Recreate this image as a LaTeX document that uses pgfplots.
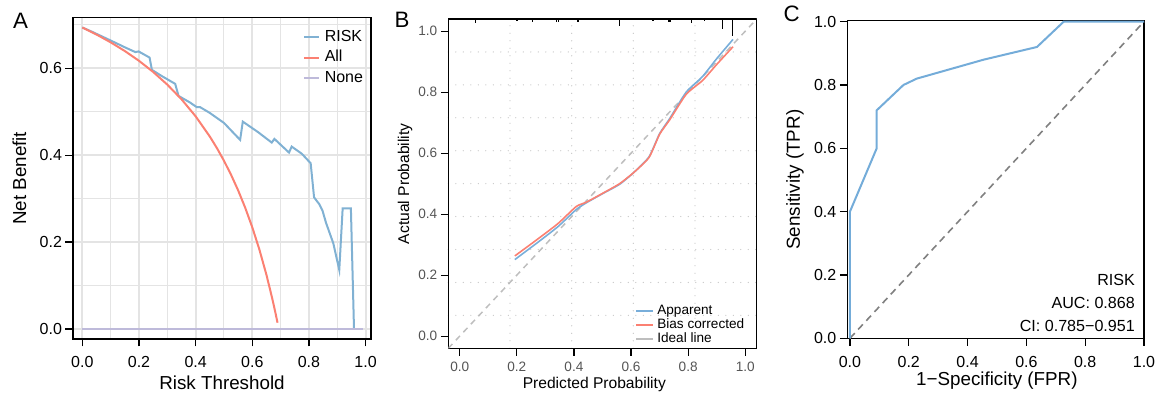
\documentclass[border=0pt]{standalone}
\usepackage{fontspec}
\setmainfont{Liberation Sans}
\usepackage{pgfplots}
\pgfplotsset{compat=1.18}
\definecolor{riskblue}{HTML}{80B1D3}
\definecolor{allred}{HTML}{FB8072}
\definecolor{nonepurple}{HTML}{BEBADA}
\definecolor{gridgrey}{HTML}{E4E4E4}
\definecolor{appblue}{HTML}{78AEDA}
\definecolor{idealgrey}{HTML}{BEBEBE}
\definecolor{dotgrey}{HTML}{C8C8C8}
\definecolor{labgrey}{HTML}{555555}
\definecolor{rocblue}{HTML}{74ACD9}
\definecolor{diaggrey}{HTML}{808080}
\begin{document}
\begin{tikzpicture}[x=1pt,y=1pt]
\useasboundingbox (0,0) rectangle (1160,393);
\pgfplotsset{
  panel/.style={scale only axis, anchor=south west,
    axis line style={black, line width=1.5pt},
    tick align=outside, tick pos=left, major tick length=7.5pt,
    major tick style={black, line width=1.2pt},
    ticklabel style={font=\fontsize{16}{19}\selectfont},
    label style={font=\fontsize{18.8}{22}\selectfont},
    legend cell align=left,
  }
}
% ---------------- Panel A ----------------
\begin{axis}[panel, at={(73pt,54pt)}, width=298pt, height=321.7pt,
  xmin=-0.033, xmax=1.019, ymin=-0.023, ymax=0.717,
  xtick={0,0.2,0.4,0.6,0.8,1}, xticklabels={0.0,0.2,0.4,0.6,0.8,1.0},
  ytick={0,0.2,0.4,0.6}, yticklabels={0.0,0.2,0.4,0.6},
  xticklabel style={yshift=-6.5pt},
  minor xtick={0.1,0.3,0.5,0.7,0.9}, minor ytick={0.1,0.3,0.5,0.7},
  minor tick length=0pt,
  grid=both, major grid style={gridgrey, line width=1.8pt},
  minor grid style={gridgrey, line width=1pt},
  xlabel={Risk Threshold}, ylabel={Net Benefit},
  xlabel style={at={(axis description cs:0.5,-0.136)}, anchor=center},
  ylabel style={at={(axis description cs:-0.180,0.4995)}, anchor=center},
  legend image code/.code={\draw[#1] (0pt,0pt) -- (15pt,0pt);},
  legend style={at={(axis description cs:0.772,0.9643)}, anchor=north west,
    draw=none, fill=none, font=\fontsize{16}{19}\selectfont,
    row sep=3.5pt, column sep=4pt, inner sep=0pt,
    nodes={inner sep=0.5pt, text height=12pt, text depth=4pt}},
]
\addplot[riskblue, line width=2pt] coordinates {
(0,0.6935) (0.03,0.685) (0.0575,0.6766) (0.10,0.6636) (0.15,0.648) (0.187,0.637)
(0.1985,0.6385) (0.2373,0.6244) (0.2456,0.5961) (0.28,0.582) (0.3278,0.5639)
(0.3395,0.5362) (0.38,0.521) (0.4042,0.5102) (0.416,0.5102) (0.45,0.497)
(0.50,0.474) (0.557,0.435) (0.5664,0.477) (0.62,0.453) (0.6686,0.4288)
(0.678,0.4373) (0.7296,0.4058) (0.739,0.4196) (0.775,0.403) (0.806,0.3813)
(0.818,0.303) (0.8365,0.287) (0.848,0.272) (0.860,0.2447) (0.886,0.197)
(0.907,0.1358) (0.919,0.2777) (0.948,0.2777) (0.959,0.0)};
\addlegendentry{RISK}
\addplot[allred, line width=2pt] coordinates {
(0,0.6935) (0.05,0.6774) (0.10,0.6594) (0.15,0.6394) (0.20,0.6169) (0.25,0.5913)
(0.30,0.5621) (0.35,0.5285) (0.40,0.4892) (0.45,0.4427) (0.475,0.4162) (0.50,0.3870)
(0.525,0.3547) (0.55,0.3189) (0.575,0.2788) (0.60,0.2338) (0.625,0.1827)
(0.65,0.1243) (0.67,0.0712) (0.68,0.0422) (0.689,0.0145)};
\addlegendentry{All}
\addplot[nonepurple, line width=2pt] coordinates {(0,0) (0.99,0)};
\addlegendentry{None}
\end{axis}
% ---------------- Panel B ----------------
\begin{axis}[panel, at={(448.3pt,44.7pt)}, width=308.4pt, height=329.3pt,
  xmin=-0.04, xmax=1.04, ymin=-0.04, ymax=1.04,
  xtick={0,0.2,0.4,0.6,0.8,1}, xticklabels={0.0,0.2,0.4,0.6,0.8,1.0},
  ytick={0,0.2,0.4,0.6,0.8,1}, yticklabels={0.0,0.2,0.4,0.6,0.8,1.0},
  ticklabel style={font=\fontsize{13.6}{16}\selectfont, text=labgrey},
  xticklabel style={yshift=-3pt},
  minor xtick={0.176,0.392,0.608,0.824},
  minor ytick={0.068,0.176,0.284,0.392,0.5,0.608,0.716,0.824,0.932},
  minor tick length=0pt, grid=minor,
  minor grid style={dotgrey, line width=1.3pt, dash pattern=on 0pt off 7.5pt, line cap=round},
  xlabel={Predicted Probability}, ylabel={Actual Probability},
  label style={font=\fontsize{15.6}{19}\selectfont},
  xlabel style={at={(axis description cs:0.4735,-0.1085)}, anchor=center},
  ylabel style={at={(axis description cs:-0.140,0.4995)}, anchor=center},
  legend image code/.code={\draw[#1] (0pt,0pt) -- (17pt,0pt);},
  legend style={at={(axis description cs:0.6054,0.1345)}, anchor=north west,
    draw=none, fill=none, font=\fontsize{13.6}{16}\selectfont,
    row sep=0pt, column sep=3pt, inner sep=0pt,
    nodes={inner sep=0.5pt, text height=9.8pt, text depth=3.2pt}},
]
\addplot[forget plot, black, line width=1.1pt, unbounded coords=jump] coordinates {
(0.056,1.04) (0.056,1.027) (0.056,nan)
(0.2007,1.04) (0.2007,1.033) (0.2007,nan)
(0.2543,1.04) (0.2543,1.030) (0.2543,nan)
(0.3383,1.04) (0.3383,1.030) (0.3383,nan)
(0.3465,1.04) (0.3465,1.030) (0.3465,nan)
(0.4142,1.04) (0.4142,1.030) (0.4142,nan)
(0.56,1.04) (0.56,1.018) (0.56,nan)
(0.6767,1.04) (0.6767,1.033) (0.6767,nan)
(0.7327,1.04) (0.7327,1.030) (0.7327,nan)
(0.7385,1.04) (0.7385,1.030) (0.7385,nan)
(0.811,1.04) (0.811,1.027) (0.811,nan)
(0.8575,1.04) (0.8575,1.033) (0.8575,nan)
(0.9195,1.04) (0.9195,1.007) (0.9195,nan)
(0.9545,1.04) (0.9545,0.985)};
\addplot[forget plot, idealgrey, line width=1.5pt, dash pattern=on 6pt off 5pt]
  coordinates {(-0.04,-0.04) (1.04,1.04)};
\addplot[appblue, line width=1.6pt, smooth, tension=0.35] coordinates {
(0.193,0.251) (0.27,0.305) (0.344,0.359) (0.408,0.415) (0.443,0.437) (0.50,0.467)
(0.56,0.498) (0.61,0.537) (0.663,0.588) (0.70,0.664) (0.735,0.713) (0.793,0.800)
(0.85,0.851) (0.90,0.910) (0.957,0.973)};
\addlegendentry{Apparent}
\addplot[allred, line width=1.6pt, smooth, tension=0.35] coordinates {
(0.193,0.263) (0.27,0.316) (0.344,0.369) (0.408,0.425) (0.443,0.439) (0.50,0.468)
(0.56,0.500) (0.61,0.537) (0.663,0.586) (0.70,0.662) (0.735,0.709) (0.793,0.793)
(0.85,0.838) (0.90,0.891) (0.957,0.949)};
\addlegendentry{Bias corrected}
\addlegendimage{idealgrey, line width=1.6pt}
\addlegendentry{Ideal line}
\end{axis}
% ---------------- Panel C ----------------
\begin{axis}[panel, at={(847.3pt,54.7pt)}, width=296.7pt, height=317.6pt,
  xmin=-0.009, xmax=1, ymin=0, ymax=1.003,
  xtick={0,0.2,0.4,0.6,0.8,1}, xticklabels={0.0,0.2,0.4,0.6,0.8,1.0},
  ytick={0,0.2,0.4,0.6,0.8,1}, yticklabels={0.0,0.2,0.4,0.6,0.8,1.0},
  xticklabel style={yshift=-6.5pt},
  xlabel={1−Specificity (FPR)}, ylabel={Sensitivity (TPR)},
  xlabel style={at={(axis description cs:0.504,-0.134)}, anchor=center},
  ylabel style={at={(axis description cs:-0.176,0.4995)}, anchor=center},
  clip=false,
]
\addplot[diaggrey, line width=1.6pt, dash pattern=on 7pt off 5pt] coordinates {(0,0) (1,1)};
\addplot[rocblue, line width=2pt] coordinates {
(0,0) (0,0.40) (0.091,0.60) (0.091,0.72) (0.182,0.80) (0.227,0.82) (0.455,0.88)
(0.636,0.92) (0.727,1.0) (1,1)};
\node[anchor=east, font=\fontsize{16.1}{19}\selectfont] at (axis description cs:0.981,0.1836) {RISK};
\node[anchor=east, font=\fontsize{16.1}{19}\selectfont] at (axis description cs:0.981,0.1121) {AUC: 0.868};
\node[anchor=east, font=\fontsize{16.1}{19}\selectfont] at (axis description cs:0.981,0.0388) {CI: 0.785−0.951};
\end{axis}
% panel letters
\node[font=\fontsize{22.3}{24}\selectfont] at (20.5,371.7) {A};
\node[font=\fontsize{22.3}{24}\selectfont] at (402,373) {B};
\node[font=\fontsize{22.3}{24}\selectfont] at (791.7,379.3) {C};
\end{tikzpicture}
\end{document}
